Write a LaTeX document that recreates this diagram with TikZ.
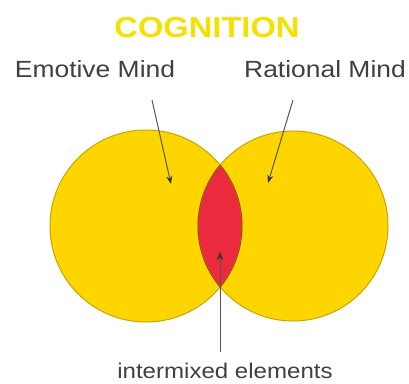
\documentclass[tikz,border=0pt]{standalone}
\usepackage{fontspec}
\setmainfont{Liberation Sans}
\usetikzlibrary{arrows.meta}
\definecolor{gold}{HTML}{FFD500}
\definecolor{goldedge}{HTML}{C9A400}
\definecolor{lensred}{HTML}{EC2A3E}
\definecolor{lensedge}{HTML}{9C4A20}
\definecolor{titleyel}{HTML}{F4E100}
\definecolor{txt}{HTML}{404040}
\definecolor{arr}{HTML}{555555}
\definecolor{tipc}{HTML}{333333}
\tikzset{
  lbl/.style={anchor=base, text=txt, inner sep=0pt, xscale=1.13, transform shape},
  ptr/.style={draw=arr, line width=1pt, -{Stealth[length=8pt,width=6pt,color=tipc]}},
}
\begin{document}
\begin{tikzpicture}[x=1pt,y=-1pt]
\useasboundingbox (0,0) rectangle (409,383);
\fill[white] (0,0) rectangle (409,383);
% circles
\fill[gold] (146,226) circle (96);
\fill[gold] (293,226) circle (95);
\begin{scope}
  \clip (146,226) circle (96);
  \fill[lensred] (293,226) circle (95);
\end{scope}
\draw[goldedge, line width=1pt] (146,226) circle (96);
\draw[goldedge, line width=1pt] (293,226) circle (95);
\begin{scope}
  \clip (146,226) circle (96);
  \draw[lensedge, line width=1pt] (293,226) circle (95);
\end{scope}
\begin{scope}
  \clip (293,226) circle (95);
  \draw[lensedge, line width=1pt] (146,226) circle (96);
\end{scope}
% texts
\node[lbl, text=titleyel, font=\fontsize{28.9}{30}\bfseries\selectfont] (title) at (207,37) {COGNITION};
\node[lbl, font=\fontsize{23.4}{25}\selectfont] (emo) at (95,77) {Emotive Mind};
\node[lbl, font=\fontsize{23.4}{25}\selectfont] (rat) at (325,77) {Rational Mind};
\node[lbl, font=\fontsize{21.3}{23}\selectfont] (mix) at (225,378) {intermixed elements};
% arrow anchors
\coordinate (emoS) at (152,100);
\coordinate (emoT) at (171,184);
\coordinate (ratS) at (293,100);
\coordinate (ratT) at (268,183);
\coordinate (mixS) at (220,352);
\coordinate (mixT) at (220,252);
\draw[ptr] (emoS) -- (emoT);
\draw[ptr] (ratS) -- (ratT);
\draw[ptr] (mixS) -- (mixT);
\end{tikzpicture}
\end{document}
